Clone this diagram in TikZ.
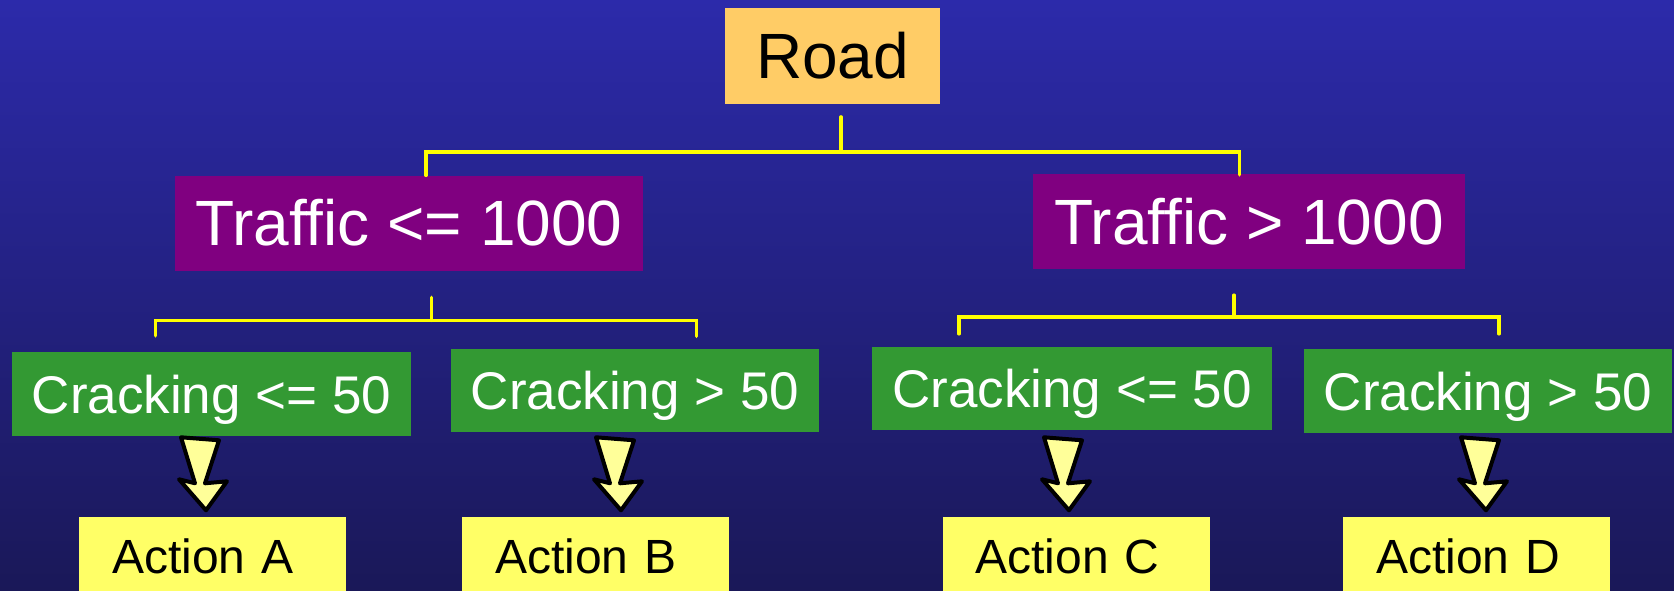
\documentclass[tikz,border=0pt]{standalone}
\usepackage{fontspec}
\setmainfont{Liberation Sans}
\usetikzlibrary{calc}
\definecolor{bgtop}{RGB}{44,42,170}
\definecolor{bgbot}{RGB}{26,24,88}
\definecolor{roadc}{RGB}{255,204,102}
\definecolor{trafc}{RGB}{128,0,128}
\definecolor{crackc}{RGB}{51,153,51}
\definecolor{actc}{RGB}{255,255,102}
\definecolor{arrowc}{RGB}{255,255,153}
\definecolor{linkc}{RGB}{255,255,0}
\begin{document}
\begin{tikzpicture}[x=1pt,y=-1pt,
  rootbox/.style={rectangle, fill=roadc, inner sep=0pt, text=black,
    font=\fontsize{64}{70}\selectfont, text height=45.8pt, text depth=0pt},
  trafbox/.style={rectangle, fill=trafc, inner sep=0pt, text=white,
    font=\fontsize{64}{70}\selectfont, text height=45.8pt, text depth=0pt,
    minimum height=95pt},
  crackbox/.style={rectangle, fill=crackc, inner sep=0pt, text=white,
    font=\fontsize{53}{60}\selectfont, text height=38pt, text depth=0pt},
  actbox/.style={rectangle, fill=actc, inner ysep=0pt, inner xsep=33pt,
    text=black, font=\fontsize{48}{54}\selectfont, text height=34.4pt,
    text depth=0pt, text width=201pt, align=left, minimum height=80pt},
  bracket/.style={draw=linkc, line width=3.5pt, line cap=round},
  blockarrow/.style={draw=black, fill=arrowc, line width=4pt, line join=round}]

\clip (0,0) rectangle (1674,590);
\shade[top color=bgtop, bottom color=bgbot] (0,0) rectangle (1674,590);

% decision tree boxes
\node[rootbox, minimum width=215pt, minimum height=95.5pt] (road) at (832.5,56) {Road};

\node[trafbox, minimum width=468pt] (t1) at (409,223) {Traffic <= 1000};
\node[trafbox, minimum width=432pt] (t2) at (1249,221.5) {Traffic > 1000};

\node[crackbox, minimum width=399pt, minimum height=84pt] (c1) at (211.5,394) {Cracking <= 50};
\node[crackbox, minimum width=368pt, minimum height=83pt] (c2) at (635,390.5) {Cracking > 50};
\node[crackbox, minimum width=399.5pt, minimum height=83pt] (c3) at (1072,388.5) {Cracking <= 50};
\node[crackbox, minimum width=368pt, minimum height=84pt] (c4) at (1488,391) {Cracking > 50};

\node[actbox] (aa) at (212.5,556.5) {Action A};
\node[actbox] (ab) at (595.5,556.5) {Action B};
\node[actbox] (ac) at (1076,556.5) {Action C};
\node[actbox] (ad) at (1476.5,556.5) {Action D};

% bracket connectors
\draw[bracket] ($(road.south)+(8.5,13)$) -- ++(0,35) coordinate (j0);
\draw[bracket] (j0) -| ($(t1.north)+(17,0)$);
\draw[bracket] (j0) -| ($(t2.north)+(-9.5,1)$);

\draw[bracket] ($(t1.south)+(22.6,26.7)$) -- ++(0,23) coordinate (j1);
\draw[bracket] (j1) -| ($(c1.north)+(-56,-16)$);
\draw[bracket] (j1) -| ($(c2.north)+(61.4,-12.5)$);

\draw[bracket] ($(t2.south)+(-15,26)$) -- ++(0,22) coordinate (j2);
\draw[bracket] (j2) -| ($(c3.north)+(-113,-13)$);
\draw[bracket] (j2) -| ($(c4.north)+(11,-15)$);

% block arrows from each test to its action
\coordinate (ta) at ($(aa.north)+(-6.5,-6)$);
\coordinate (tb) at ($(ab.north)+(25.5,-6)$);
\coordinate (tc) at ($(ac.north)+(-7,-6)$);
\coordinate (td) at ($(ad.north)+(9.5,-6)$);
\foreach \t in {ta,tb,tc,td}{
  \draw[blockarrow, shift={(\t)}]
    (-25,-73) -- (13,-70) -- (-1,-27) -- (21,-29) -- (0,0)
    -- (-27,-31) -- (-11,-27) -- cycle;
}
\end{tikzpicture}
\end{document}
